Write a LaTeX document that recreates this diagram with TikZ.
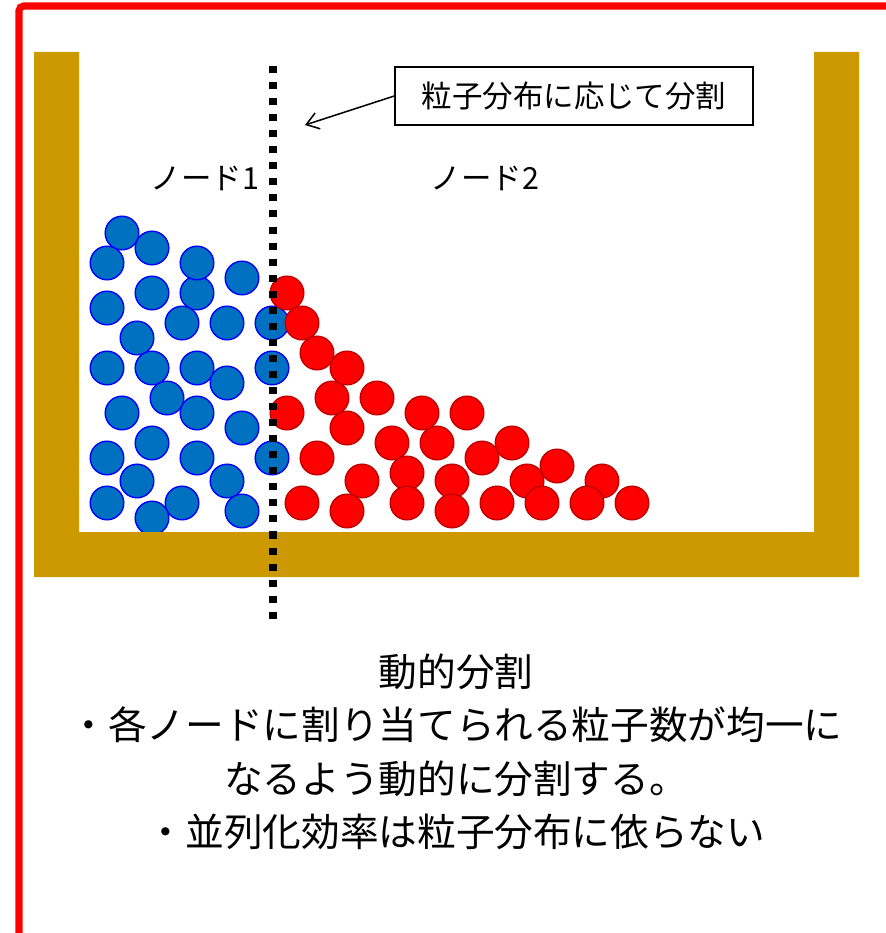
\documentclass[tikz,border=0pt]{standalone}
\usepackage{fontspec}
\setmainfont{Noto Sans CJK JP}
\usetikzlibrary{arrows.meta}
\definecolor{wallgold}{HTML}{CC9900}
\definecolor{pblue}{HTML}{0070C0}
\definecolor{pred}{HTML}{FF0000}
\definecolor{pedge}{HTML}{C00000}

\begin{document}
\begin{tikzpicture}[x=.03cm, y=-.03cm,
	bp/.style={draw=blue, fill=pblue, line width=1.2pt},
	rp/.style={draw=pedge, fill=pred, line width=1.2pt},
	wall/.style={fill=wallgold},
	cut/.style={line width=6pt, dash pattern=on 6pt off 7.7pt},
	lbl/.style={font=\fontsize{26}{30}\selectfont, inner sep=0pt}]
	\useasboundingbox (0,0) rectangle (885,933);
	\draw[pred, line width=6pt, rounded corners=4pt] (19,950) -- (19,6) -- (900,6);
	% node 1 particles
	\filldraw[bp] (122,233) circle (16.8);
	\filldraw[bp] (152,248) circle (16.8);
	\filldraw[bp] (107,263) circle (16.8);
	\filldraw[bp] (197,293) circle (16.8);
	\filldraw[bp] (197,263) circle (16.8);
	\filldraw[bp] (242,278) circle (16.8);
	\filldraw[bp] (152,293) circle (16.8);
	\filldraw[bp] (107,308) circle (16.8);
	\filldraw[bp] (182,323) circle (16.8);
	\filldraw[bp] (227,323) circle (16.8);
	\filldraw[bp] (272,323) circle (16.8);
	\filldraw[bp] (137,338) circle (16.8);
	\filldraw[bp] (107,368) circle (16.8);
	\filldraw[bp] (152,368) circle (16.8);
	\filldraw[bp] (197,368) circle (16.8);
	\filldraw[bp] (272,368) circle (16.8);
	\filldraw[bp] (227,383) circle (16.8);
	\filldraw[bp] (167,398) circle (16.8);
	\filldraw[bp] (122,413) circle (16.8);
	\filldraw[bp] (197,413) circle (16.8);
	\filldraw[bp] (242,428) circle (16.8);
	\filldraw[bp] (152,443) circle (16.8);
	\filldraw[bp] (107,458) circle (16.8);
	\filldraw[bp] (197,458) circle (16.8);
	\filldraw[bp] (272,458) circle (16.8);
	\filldraw[bp] (137,481) circle (16.8);
	\filldraw[bp] (227,481) circle (16.8);
	\filldraw[bp] (107,503) circle (16.8);
	\filldraw[bp] (182,503) circle (16.8);
	\filldraw[bp] (152,518) circle (16.8);
	\filldraw[bp] (242,511) circle (16.8);
	% node 2 particles
	\filldraw[rp] (287,293) circle (16.8);
	\filldraw[rp] (302,323) circle (16.8);
	\filldraw[rp] (317,353) circle (16.8);
	\filldraw[rp] (347,368) circle (16.8);
	\filldraw[rp] (332,398) circle (16.8);
	\filldraw[rp] (377,398) circle (16.8);
	\filldraw[rp] (287,413) circle (16.8);
	\filldraw[rp] (422,413) circle (16.8);
	\filldraw[rp] (467,413) circle (16.8);
	\filldraw[rp] (347,428) circle (16.8);
	\filldraw[rp] (392,443) circle (16.8);
	\filldraw[rp] (437,443) circle (16.8);
	\filldraw[rp] (512,443) circle (16.8);
	\filldraw[rp] (317,458) circle (16.8);
	\filldraw[rp] (482,458) circle (16.8);
	\filldraw[rp] (557,466) circle (16.8);
	\filldraw[rp] (407,473) circle (16.8);
	\filldraw[rp] (362,481) circle (16.8);
	\filldraw[rp] (452,481) circle (16.8);
	\filldraw[rp] (527,481) circle (16.8);
	\filldraw[rp] (602,481) circle (16.8);
	\filldraw[rp] (302,503) circle (16.8);
	\filldraw[rp] (347,511) circle (16.8);
	\filldraw[rp] (407,503) circle (16.8);
	\filldraw[rp] (452,511) circle (16.8);
	\filldraw[rp] (497,503) circle (16.8);
	\filldraw[rp] (542,503) circle (16.8);
	\filldraw[rp] (587,503) circle (16.8);
	\filldraw[rp] (632,503) circle (16.8);
	% container
	\fill[wall] (34,52) -- (79,52) -- (79,532) -- (814,532) -- (814,52) -- (859,52)
		-- (859,577) -- (34,577) -- cycle;
	\draw[cut] (273,66) -- (273,620);
	% labels
	\node[lbl] (n1) at (205,178) {ノード1};
	\node[lbl] (n2) at (485,178) {ノード2};
	\node[lbl, draw, line width=1.2pt, minimum width=10.74cm, minimum height=1.74cm] (note) at (574,96) {粒子分布に応じて分割};
	\coordinate (tip) at (305,125);
	\draw[line width=1.3pt, -{Straight Barb[length=3.6mm, width=5mm]}] (note.west) -- (tip);
	\node[align=center, font=\fontsize{33}{45.6}\selectfont] (sum) at (456,752)
		{動的分割\\・各ノードに割り当てられる粒子数が均一に\\なるよう動的に分割する。\\・並列化効率は粒子分布に依らない};
\end{tikzpicture}
\end{document}
